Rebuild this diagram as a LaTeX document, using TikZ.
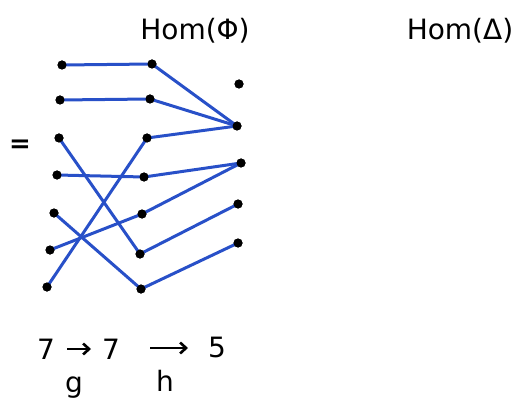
\documentclass[tikz,border=0pt]{standalone}
\usepackage{fontspec}
\setmainfont{DejaVu Sans}
\usetikzlibrary{arrows.meta,calc}
\begin{document}
\begin{tikzpicture}[x=1pt,y=-1pt,
  dot/.style={circle,fill=black,inner sep=0pt,minimum size=9pt},
  wire/.style={draw={rgb,255:red,40;green,80;blue,200},line width=3pt,line cap=round},
  lbl/.style={font=\fontsize{28}{30}\selectfont,inner sep=0pt},
  harr/.style={-{Straight Barb[length=6pt,width=11pt]},line width=2.6pt}]
\useasboundingbox (0,0) rectangle (524,406);
% left column
\node[dot] (L1) at (62,65) {};
\node[dot] (L2) at (60,100) {};
\node[dot] (L3) at (59,138) {};
\node[dot] (L4) at (57,175) {};
\node[dot] (L5) at (54,213) {};
\node[dot] (L6) at (50,250) {};
\node[dot] (L7) at (47,287) {};
% middle column
\node[dot] (M1) at (152,64) {};
\node[dot] (M2) at (150,99) {};
\node[dot] (M3) at (147,138) {};
\node[dot] (M4) at (144,177) {};
\node[dot] (M5) at (142,214) {};
\node[dot] (M6) at (140,254) {};
\node[dot] (M7) at (141,289) {};
% right column
\node[dot] (R1) at (239,84) {};
\node[dot] (R2) at (237,126) {};
\node[dot] (R3) at (241,163) {};
\node[dot] (R4) at (238,204) {};
\node[dot] (R5) at (238,243) {};
% wires g
\draw[wire] (L1.center) -- (M1.center);
\draw[wire] (L2.center) -- (M2.center);
\draw[wire] (L3.center) -- (M6.center);
\draw[wire] (L4.center) -- (M4.center);
\draw[wire] (L5.center) -- (M7.center);
\draw[wire] (L6.center) -- (M5.center);
\draw[wire] (L7.center) -- (M3.center);
% wires h
\draw[wire] (M1.center) -- (R2.center);
\draw[wire] (M2.center) -- (R2.center);
\draw[wire] (M3.center) -- (R2.center);
\draw[wire] (M4.center) -- (R3.center);
\draw[wire] (M5.center) -- (R3.center);
\draw[wire] (M6.center) -- (R4.center);
\draw[wire] (M7.center) -- (R5.center);
% redraw dots on top
\foreach \n in {L1,L2,L3,L4,L5,L6,L7,M1,M2,M3,M4,M5,M6,M7,R1,R2,R3,R4,R5}
  \fill (\n.center) circle (4.5pt);
% equals sign
\node[lbl,font=\bfseries\fontsize{26}{28}\selectfont] (eq) at (20,146) {=};
% headings
\node[lbl,anchor=base] (hphi) at (195,40) {Hom(Φ)};
\node[lbl,anchor=base] (hdelta) at (460,40) {Hom(Δ)};
% bottom
\node[lbl,anchor=base] (n1) at (46,359) {7};
\node[lbl,anchor=base] (n2) at (111,359) {7};
\node[lbl,anchor=base] (n3) at (217,357) {5};
\node[lbl,anchor=base] (g) at (74,392) {g};
\node[lbl,anchor=base] (h) at (165,391) {h};
\coordinate (a1s) at (67,349);
\coordinate (a1e) at (91,349);
\coordinate (a2s) at (150,348);
\coordinate (a2e) at (188,348);
\draw[harr] (a1s) -- (a1e);
\draw[harr] (a2s) -- (a2e);
\end{tikzpicture}
\end{document}
